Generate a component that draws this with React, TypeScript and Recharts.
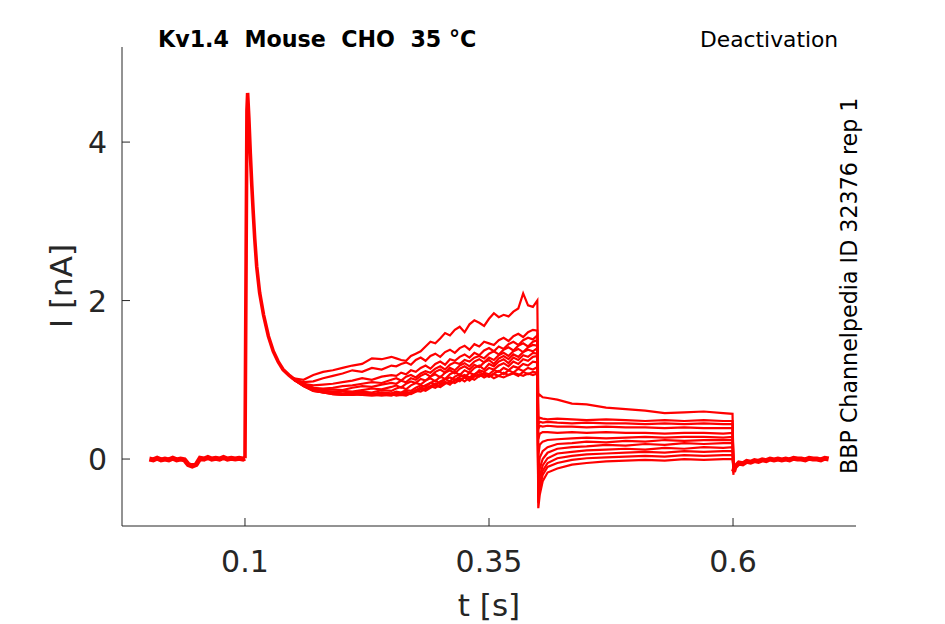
import React from "react";
import { LineChart, Line, XAxis, YAxis } from "recharts";

// holding level before the step, with the small dip near 45 ms
const T_BASE = [0.002, 0.006, 0.01, 0.014, 0.018, 0.022, 0.026, 0.03, 0.034, 0.038, 0.042, 0.046, 0.05, 0.054, 0.058, 0.062, 0.066, 0.07, 0.074, 0.078, 0.082, 0.086, 0.09, 0.094, 0.098, 0.1];
const I_BASE = [0.0, -0.01, 0.01, -0.01, 0.0, -0.01, 0.01, -0.01, 0.0, -0.01, -0.07, -0.09, -0.07, 0.01, 0.0, 0.02, 0.0, 0.01, 0.0, 0.02, 0.0, 0.01, 0.0, 0.01, 0.0, 0.01];

// peak and fast inactivation, same for every sweep
const T_PEAK = [0.102, 0.1027, 0.104, 0.1055, 0.107, 0.1085, 0.11, 0.112, 0.115, 0.119, 0.124, 0.129, 0.134, 0.139, 0.145, 0.15];
const I_PEAK = [4.4, 4.62, 4.3, 3.85, 3.45, 3.1, 2.78, 2.43, 2.1, 1.82, 1.55, 1.36, 1.23, 1.13, 1.06, 1.01];

// after the deactivation step
const T_POST = [0.6005, 0.602, 0.606, 0.61, 0.614, 0.618, 0.622, 0.626, 0.63, 0.634, 0.638, 0.642, 0.646, 0.65, 0.654, 0.658, 0.662, 0.666, 0.67, 0.674, 0.678, 0.682, 0.686, 0.69, 0.694, 0.698];
const I_POST = [-0.16, -0.1, -0.05, -0.06, -0.03, -0.04, -0.02, -0.03, -0.01, -0.02, 0.0, -0.01, 0.0, -0.01, 0.0, -0.01, 0.01, 0.0, 0.0, -0.01, 0.01, 0.0, 0.0, -0.01, 0.01, 0.0];

// sweep times: slow phase of the activation step, then the deactivation step
const T_ACT = [0.15, 0.16, 0.17, 0.18, 0.19, 0.2, 0.21, 0.22, 0.23, 0.24, 0.25, 0.255, 0.26, 0.265, 0.27, 0.275, 0.28, 0.285, 0.29, 0.295, 0.3, 0.305, 0.31, 0.315, 0.32, 0.325, 0.33, 0.335, 0.34, 0.345, 0.35, 0.355, 0.36, 0.365, 0.37, 0.375, 0.38, 0.385, 0.39, 0.395, 0.3995];
const T_DEACT = [0.4005, 0.402, 0.405, 0.41, 0.42, 0.435, 0.45, 0.47, 0.49, 0.51, 0.53, 0.55, 0.57, 0.59, 0.5995, 0.6005];

const ACT_A = [1.02, 1.0, 1.06, 1.1, 1.12, 1.15, 1.18, 1.2, 1.27, 1.26, 1.29, 1.27, 1.25, 1.24, 1.3, 1.33, 1.36, 1.42, 1.48, 1.46, 1.52, 1.59, 1.56, 1.63, 1.67, 1.6, 1.7, 1.75, 1.72, 1.68, 1.77, 1.84, 1.79, 1.82, 1.8, 1.86, 1.9, 2.09, 1.94, 1.92, 2.0];
const ACT_B = [1.01, 0.97, 0.98, 1.02, 1.05, 1.08, 1.12, 1.1, 1.15, 1.13, 1.18, 1.17, 1.2, 1.22, 1.19, 1.25, 1.28, 1.24, 1.3, 1.33, 1.29, 1.35, 1.38, 1.34, 1.4, 1.43, 1.38, 1.45, 1.42, 1.48, 1.46, 1.44, 1.5, 1.53, 1.49, 1.55, 1.58, 1.54, 1.6, 1.63, 1.62];
const ACT_C = [1.0, 0.95, 0.93, 0.94, 0.95, 0.97, 0.99, 1.02, 1.0, 1.04, 1.06, 1.05, 1.09, 1.07, 1.12, 1.1, 1.15, 1.18, 1.14, 1.2, 1.23, 1.19, 1.26, 1.24, 1.29, 1.32, 1.28, 1.34, 1.31, 1.37, 1.4, 1.36, 1.42, 1.39, 1.45, 1.48, 1.44, 1.5, 1.53, 1.51, 1.56];
const ACT_D = [1.01, 0.94, 0.9, 0.89, 0.9, 0.92, 0.93, 0.95, 0.97, 0.96, 1.0, 1.02, 0.99, 1.04, 1.06, 1.03, 1.08, 1.11, 1.09, 1.14, 1.17, 1.13, 1.19, 1.22, 1.2, 1.25, 1.23, 1.28, 1.3, 1.27, 1.33, 1.36, 1.32, 1.38, 1.41, 1.37, 1.43, 1.46, 1.42, 1.48, 1.5];
const ACT_E = [1.0, 0.93, 0.89, 0.87, 0.88, 0.87, 0.9, 0.92, 0.91, 0.94, 0.96, 0.95, 0.99, 0.97, 1.02, 1.0, 1.05, 1.08, 1.04, 1.1, 1.13, 1.09, 1.15, 1.12, 1.18, 1.21, 1.17, 1.23, 1.26, 1.22, 1.28, 1.25, 1.31, 1.34, 1.3, 1.36, 1.39, 1.35, 1.41, 1.44, 1.43];
const ACT_F = [1.02, 0.95, 0.9, 0.86, 0.85, 0.86, 0.85, 0.87, 0.89, 0.88, 0.91, 0.93, 0.9, 0.95, 0.98, 0.96, 1.01, 0.99, 1.04, 1.07, 1.03, 1.09, 1.12, 1.08, 1.14, 1.17, 1.13, 1.19, 1.16, 1.22, 1.25, 1.2, 1.27, 1.3, 1.26, 1.32, 1.29, 1.35, 1.38, 1.36, 1.4];
const ACT_G = [1.0, 0.94, 0.88, 0.86, 0.84, 0.83, 0.84, 0.85, 0.84, 0.87, 0.86, 0.89, 0.91, 0.88, 0.93, 0.96, 0.94, 0.99, 1.02, 0.98, 1.04, 1.01, 1.07, 1.1, 1.06, 1.12, 1.09, 1.15, 1.18, 1.13, 1.2, 1.17, 1.23, 1.26, 1.21, 1.28, 1.25, 1.31, 1.29, 1.34, 1.33];
const ACT_H = [1.01, 0.93, 0.87, 0.84, 0.82, 0.81, 0.82, 0.83, 0.82, 0.84, 0.83, 0.85, 0.84, 0.87, 0.86, 0.9, 0.93, 0.91, 0.96, 0.99, 0.95, 1.01, 0.98, 1.04, 1.07, 1.03, 1.09, 1.06, 1.12, 1.1, 1.15, 1.13, 1.18, 1.21, 1.17, 1.23, 1.2, 1.26, 1.24, 1.29, 1.3];
const ACT_I = [1.0, 0.92, 0.87, 0.85, 0.83, 0.82, 0.81, 0.82, 0.81, 0.83, 0.82, 0.84, 0.82, 0.85, 0.83, 0.87, 0.9, 0.88, 0.92, 0.95, 0.91, 0.97, 0.94, 1.0, 0.98, 1.03, 1.01, 1.06, 1.04, 1.09, 1.07, 1.12, 1.1, 1.15, 1.12, 1.17, 1.15, 1.2, 1.18, 1.23, 1.22];
const ACT_J = [1.01, 0.93, 0.88, 0.85, 0.84, 0.82, 0.83, 0.81, 0.82, 0.8, 0.82, 0.81, 0.83, 0.82, 0.84, 0.86, 0.85, 0.89, 0.92, 0.9, 0.94, 0.97, 0.95, 0.99, 1.02, 0.98, 1.03, 1.0, 1.05, 1.07, 1.04, 1.08, 1.11, 1.07, 1.12, 1.09, 1.14, 1.11, 1.15, 1.13, 1.16];
const ACT_K = [1.0, 0.92, 0.86, 0.84, 0.83, 0.82, 0.81, 0.83, 0.82, 0.81, 0.8, 0.82, 0.81, 0.83, 0.82, 0.85, 0.88, 0.86, 0.9, 0.93, 0.91, 0.95, 0.98, 0.96, 1.0, 1.03, 0.99, 1.04, 1.07, 1.03, 1.06, 1.02, 1.05, 1.09, 1.06, 1.08, 1.05, 1.1, 1.07, 1.1, 1.09];
const ACT_L = [1.01, 0.92, 0.86, 0.84, 0.82, 0.81, 0.82, 0.81, 0.8, 0.81, 0.82, 0.8, 0.81, 0.8, 0.83, 0.86, 0.9, 0.93, 0.96, 0.94, 0.98, 1.01, 1.03, 1.0, 1.04, 1.06, 1.03, 1.07, 1.1, 1.06, 1.04, 1.07, 1.05, 1.03, 1.06, 1.09, 1.07, 1.05, 1.08, 1.06, 1.08];

const DEACT_A = [0.79, 0.81, 0.78, 0.77, 0.75, 0.7, 0.69, 0.65, 0.63, 0.61, 0.58, 0.59, 0.6, 0.58, 0.57, -0.12];
const DEACT_B = [0.5, 0.52, 0.51, 0.5, 0.51, 0.5, 0.49, 0.5, 0.49, 0.48, 0.49, 0.48, 0.49, 0.48, 0.48, -0.1];
const DEACT_C = [0.44, 0.47, 0.46, 0.47, 0.46, 0.45, 0.46, 0.45, 0.45, 0.44, 0.45, 0.44, 0.45, 0.44, 0.44, -0.14];
const DEACT_D = [0.38, 0.42, 0.41, 0.42, 0.41, 0.41, 0.4, 0.41, 0.4, 0.4, 0.39, 0.4, 0.39, 0.39, 0.39, -0.08];
const DEACT_E = [0.25, 0.32, 0.34, 0.34, 0.33, 0.34, 0.33, 0.34, 0.33, 0.33, 0.32, 0.33, 0.33, 0.32, 0.33, -0.15];
const DEACT_F = [0.05, 0.18, 0.22, 0.24, 0.25, 0.26, 0.27, 0.26, 0.27, 0.28, 0.27, 0.28, 0.28, 0.27, 0.28, -0.11];
const DEACT_G = [-0.15, 0.02, 0.1, 0.15, 0.19, 0.2, 0.22, 0.21, 0.23, 0.22, 0.24, 0.23, 0.24, 0.24, 0.24, -0.18];
const DEACT_H = [-0.3, -0.12, 0.0, 0.08, 0.13, 0.15, 0.16, 0.18, 0.17, 0.19, 0.18, 0.2, 0.19, 0.2, 0.2, -0.13];
const DEACT_I = [-0.4, -0.22, -0.08, 0.01, 0.07, 0.09, 0.11, 0.12, 0.13, 0.12, 0.14, 0.13, 0.15, 0.14, 0.15, -0.16];
const DEACT_J = [-0.48, -0.3, -0.15, -0.05, 0.01, 0.04, 0.06, 0.07, 0.08, 0.09, 0.08, 0.1, 0.09, 0.1, 0.1, -0.2];
const DEACT_K = [-0.55, -0.36, -0.2, -0.1, -0.05, -0.01, 0.01, 0.02, 0.03, 0.04, 0.03, 0.05, 0.04, 0.05, 0.05, -0.14];
const DEACT_L = [-0.62, -0.45, -0.28, -0.17, -0.12, -0.07, -0.05, -0.03, -0.02, -0.01, -0.02, 0.0, -0.01, 0.0, 0.0, -0.12];

const SWEEPS = [
  [ACT_A, DEACT_A],
  [ACT_B, DEACT_B],
  [ACT_C, DEACT_C],
  [ACT_D, DEACT_D],
  [ACT_E, DEACT_E],
  [ACT_F, DEACT_F],
  [ACT_G, DEACT_G],
  [ACT_H, DEACT_H],
  [ACT_I, DEACT_I],
  [ACT_J, DEACT_J],
  [ACT_K, DEACT_K],
  [ACT_L, DEACT_L],
];

const X_TICKS = [0.1, 0.35, 0.6];
const Y_TICKS = [0, 2, 4];

const FONT = "DejaVu Sans";
const AXIS = "#262626";
const RED = "#ff0000";

const zip = (ts: number[], vs: number[]) => ts.map((t, k) => ({ t, i: vs[k] }));

const baseRows = zip(T_BASE, I_BASE);
const peakRows = zip([0.1, ...T_PEAK], [0.01, ...I_PEAK]);
const postRows = zip(T_POST, I_POST);
const sweepRows = SWEEPS.map(([a, d]) => zip([...T_ACT, ...T_DEACT], [...a, ...d]));

const XTick = (props: any) => {
  const { x, y, payload } = props;
  return (
    <g>
      <line x1={x} x2={x} y1={y} y2={y - 8} stroke={AXIS} strokeWidth={1} />
      <text x={x} y={y + 46} textAnchor="middle" fontSize={30} fill={AXIS} fontFamily={FONT}>
        {String(payload.value)}
      </text>
    </g>
  );
};

const YTick = (props: any) => {
  const { x, y, payload } = props;
  return (
    <g>
      <line x1={x} x2={x + 8} y1={y} y2={y} stroke={AXIS} strokeWidth={1} />
      <text x={x - 15} y={y + 11} textAnchor="end" fontSize={30} fill={AXIS} fontFamily={FONT}>
        {String(payload.value)}
      </text>
    </g>
  );
};

export default function App() {
  return (
    <div style={{ position: "absolute", left: 0, top: 0, width: 945, height: 624, background: "#fff" }}>
      <LineChart width={945} height={624} margin={{ top: 47, right: 89, bottom: 0, left: 0 }}>
        <XAxis
          type="number"
          dataKey="t"
          domain={[-0.026, 0.726]}
          ticks={X_TICKS}
          allowDataOverflow
          height={98}
          tickSize={0}
          tickMargin={0}
          tickLine={false}
          axisLine={{ stroke: AXIS, strokeWidth: 1 }}
          tick={<XTick />}
        />
        <YAxis
          type="number"
          dataKey="i"
          domain={[-0.845, 5.2]}
          ticks={Y_TICKS}
          allowDataOverflow
          width={122}
          tickSize={0}
          tickMargin={0}
          tickLine={false}
          axisLine={{ stroke: AXIS, strokeWidth: 1 }}
          tick={<YTick />}
        />
        <Line data={baseRows} dataKey="i" type="linear" dot={false} stroke={RED} strokeWidth={5} isAnimationActive={false} />
        <Line data={peakRows} dataKey="i" type="linear" dot={false} stroke={RED} strokeWidth={3.6} isAnimationActive={false} />
        {sweepRows.map((rows, k) => (
          <Line key={k} data={rows} dataKey="i" type="linear" dot={false} stroke={RED} strokeWidth={2.2} isAnimationActive={false} />
        ))}
        <Line data={postRows} dataKey="i" type="linear" dot={false} stroke={RED} strokeWidth={5} isAnimationActive={false} />
      </LineChart>
      <svg width={945} height={624} style={{ position: "absolute", left: 0, top: 0, pointerEvents: "none" }}>
        <text x={158} y={47} fontSize={22.2} fontWeight="bold" fontFamily={FONT} fill="#000" style={{ whiteSpace: "pre" }}>
          {"Kv1.4  Mouse  CHO  35 °C"}
        </text>
        <text x={700} y={47} fontSize={21.8} fontFamily={FONT} fill="#000">
          Deactivation
        </text>
        <text x={857} y={474} fontSize={22.2} fontFamily={FONT} fill="#000" transform="rotate(-90 857 474)">
          BBP Channelpedia ID 32376 rep 1
        </text>
        <text x={489} y={616} fontSize={31} fontFamily={FONT} fill={AXIS} textAnchor="middle">
          t [s]
        </text>
        <text x={72} y={286} fontSize={31} fontFamily={FONT} fill={AXIS} textAnchor="middle" transform="rotate(-90 72 286)">
          I [nA]
        </text>
      </svg>
    </div>
  );
}
